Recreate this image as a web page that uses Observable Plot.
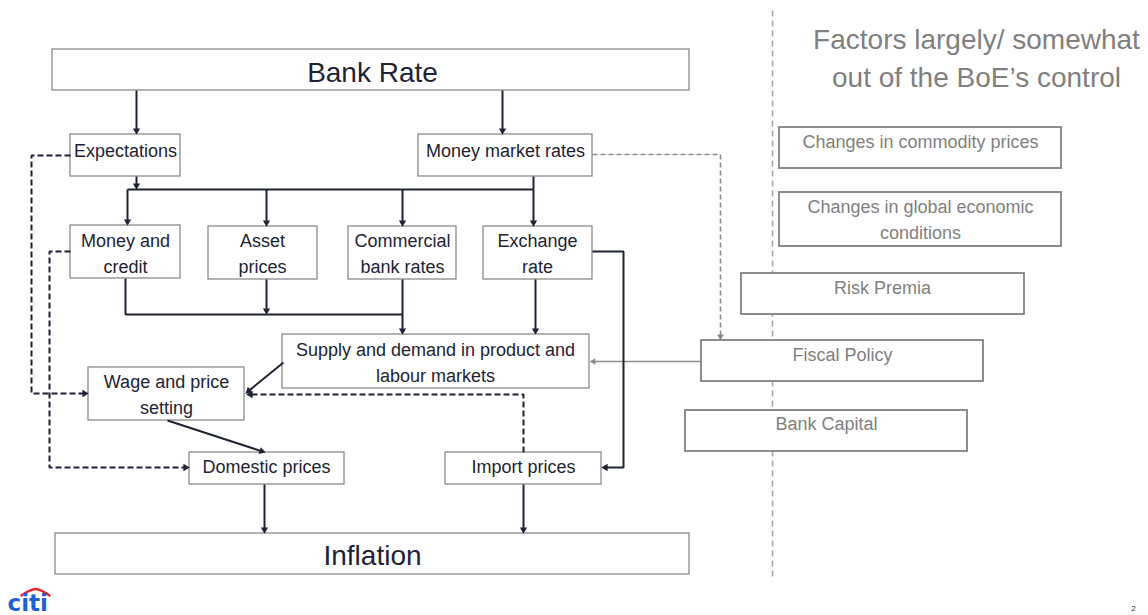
<!DOCTYPE html>
<html>
<head>
<meta charset="utf-8">
<script src="https://cdn.jsdelivr.net/npm/d3@7"></script>
<script src="https://cdn.jsdelivr.net/npm/@observablehq/plot@0.6"></script>
<style>
  html, body { margin: 0; padding: 0; background: #ffffff; }
  #chart svg { display: block; font-family: "Liberation Sans", Arial, sans-serif; }
</style>
</head>
<body>
<div id="chart"></div>
<script>
// ---- Diagram data (node boxes, in the diagram's own coordinate space) ----
const nodeNames  = ["Bank Rate", "Expectations", "Money market rates", "Money and\ncredit", "Asset\nprices",
                    "Commercial\nbank rates", "Exchange\nrate", "Supply and demand in product and\nlabour markets",
                    "Wage and price\nsetting", "Domestic prices", "Import prices", "Inflation",
                    "Changes in commodity prices", "Changes in global economic\nconditions", "Risk Premia",
                    "Fiscal Policy", "Bank Capital"];
const nodeGroup  = ["headline", "core", "core", "core", "core", "core", "core", "core", "core", "core", "core", "headline",
                    "external", "external", "external", "external", "external"];
const nodeX1     = [52, 70, 418, 70, 208, 348, 483, 282, 88, 189, 445, 55, 779, 779, 741, 701, 685];
const nodeX2     = [689, 180, 592, 180, 317, 456, 592, 589, 244, 344, 601, 689, 1061, 1061, 1024, 983, 967];
const nodeY1     = [49, 134, 134, 225, 226, 226, 226, 334, 367, 452, 452, 533, 127, 192, 273, 340, 410];
const nodeY2     = [90, 176, 176, 278, 279, 279, 279, 388, 420, 484, 484, 574, 168, 246, 314, 381, 451];
const nodeLabelX = [372, 125, 505, 125, 262, 402, 537, 435, 166, 266, 523, 372, 920, 920, 882, 842, 826];
const nodeLabelY = [73, 148, 148, 251, 251, 251, 251, 360, 392, 464, 464, 556, 139, 217, 285, 352, 421];

// ---- Connectors (polylines; "Arrows" end with a head) ----
const solidLines = [
  [[127, 189], [533, 189]],
  [[533, 176], [533, 189]],
  [[125, 278], [125, 314], [402, 314]]
];
const solidArrows = [
  [[136, 90], [136, 134]],
  [[502, 90], [502, 134]],
  [[136, 176], [136, 189]],
  [[127, 189], [127, 225]],
  [[266, 189], [266, 226]],
  [[402, 189], [402, 226]],
  [[533, 189], [533, 226]],
  [[266, 279], [266, 314]],
  [[402, 279], [402, 334]],
  [[535, 279], [535, 334]],
  [[592, 251], [623, 251], [623, 467], [601, 467]],
  [[283, 362], [245, 393]],
  [[167, 420], [265, 452]],
  [[264, 484], [264, 533]],
  [[523, 484], [523, 533]]
];
const dashedArrows = [
  [[70, 155], [31, 155], [31, 393], [88, 393]],
  [[70, 251], [49, 251], [49, 467], [189, 467]],
  [[523, 452], [523, 394], [246, 394]]
];
const greyDashedArrows = [
  [[592, 154], [720, 154], [720, 340]]
];
const greyArrows = [
  [[701, 361], [589, 361]]
];
const separatorLine = [[772, 10], [772, 580]];

const sideTitle = "Factors largely/ somewhat\nout of the BoE’s control";
const logoText = "citi";
const logoArc = [[21, 595], [35, 588.5], [49, 595]];
const pageNumber = "2";

// ---- Build tables ----
const nodes = nodeNames.map((name, i) => ({
  name, group: nodeGroup[i], x1: nodeX1[i], x2: nodeX2[i], y1: nodeY1[i], y2: nodeY2[i],
  lx: nodeLabelX[i], ly: nodeLabelY[i]
}));

const TIP = 4.0;     // distance from triangle center to tip
const SHORTEN = 3;   // line end pulled back under the head

function flatten(paths, withHead) {
  const out = [];
  paths.forEach((pts, id) => {
    pts.forEach((p, j) => {
      let [x, y] = p;
      if (withHead && j === pts.length - 1) {
        const [x0, y0] = pts[j - 1];
        const L = Math.hypot(x - x0, y - y0);
        x -= (x - x0) / L * SHORTEN;
        y -= (y - y0) / L * SHORTEN;
      }
      out.push({id, x, y});
    });
  });
  return out;
}
function heads(paths) {
  return paths.map(pts => {
    const [x0, y0] = pts[pts.length - 2], [x1, y1] = pts[pts.length - 1];
    const L = Math.hypot(x1 - x0, y1 - y0);
    const ux = (x1 - x0) / L, uy = (y1 - y0) / L;
    return {x: x1 - ux * TIP, y: y1 - uy * TIP, rotate: Math.atan2(ux, -uy) * 180 / Math.PI};
  });
}

const DARK = "#1d2334";
const GREY = "#8c8c8c";
const lineOpts = {x: "x", y: "y", z: "id", strokeLinecap: "butt", strokeLinejoin: "miter", curve: "linear"};

const core = nodes.filter(d => d.group !== "external");
const ext = nodes.filter(d => d.group === "external");

const chart = Plot.plot({
  width: 1148,
  height: 615,
  margin: 0,
  x: {domain: [0, 1148], range: [0, 1148], axis: null},
  y: {domain: [0, 615], range: [0, 615], axis: null},
  style: {fontFamily: "'Liberation Sans', Arial, sans-serif", background: "#ffffff"},
  marks: [
    // separator
    Plot.line(separatorLine, {x: d => d[0], y: d => d[1], stroke: "#a6a6a6", strokeWidth: 1.6, strokeDasharray: "6,4", strokeLinecap: "butt"}),
    // grey connectors
    Plot.line(flatten(greyDashedArrows, true), {...lineOpts, stroke: GREY, strokeWidth: 1.6, strokeDasharray: "5,3"}),
    Plot.line(flatten(greyArrows, true), {...lineOpts, stroke: GREY, strokeWidth: 1.6}),
    Plot.dot(heads(greyDashedArrows.concat(greyArrows)), {x: "x", y: "y", rotate: "rotate", symbol: "triangle", r: 2.5, fill: GREY, stroke: "none"}),
    // boxes
    Plot.rect(core, {x1: "x1", x2: "x2", y1: "y1", y2: "y2", fill: "#ffffff", stroke: "#8a8a8a", strokeWidth: 1.3}),
    Plot.rect(ext, {x1: "x1", x2: "x2", y1: "y1", y2: "y2", fill: "#ffffff", stroke: "#7a7a7a", strokeWidth: 1.7}),
    // dark connectors
    Plot.line(flatten(solidLines, false), {...lineOpts, stroke: DARK, strokeWidth: 2}),
    Plot.line(flatten(solidArrows, true), {...lineOpts, stroke: DARK, strokeWidth: 2}),
    Plot.line(flatten(dashedArrows, true), {...lineOpts, stroke: DARK, strokeWidth: 2, strokeDasharray: "6,3"}),
    Plot.dot(heads(solidArrows.concat(dashedArrows)), {x: "x", y: "y", rotate: "rotate", symbol: "triangle", r: 2.7, fill: DARK, stroke: "none"}),
    // labels
    Plot.text(nodes.filter(d => d.group === "headline"), {x: "lx", y: "ly", text: "name", fontSize: 28, fill: DARK, lineAnchor: "middle"}),
    Plot.text(nodes.filter(d => d.group === "core"), {x: "lx", y: "ly", text: "name", fontSize: 18, fill: DARK, lineAnchor: "middle", lineHeight: 1.45}),
    Plot.text(ext, {x: "lx", y: "ly", text: "name", fontSize: 18, fill: "#7f7f7f", lineAnchor: "middle", lineHeight: 1.45}),
    Plot.text([sideTitle], {x: () => 976, y: () => 55, text: d => d, fontSize: 28, fill: "#7f7f7f", lineAnchor: "middle", lineHeight: 1.38}),
    // logo and page number
    Plot.line(logoArc, {x: d => d[0], y: d => d[1], curve: "natural", stroke: "#e3262b", strokeWidth: 2.4}),
    Plot.text([logoText], {x: () => 7, y: () => 610, text: d => d, fontSize: 23, fontWeight: "bold", fill: "#1f5fd1", textAnchor: "start", lineAnchor: "bottom", fontFamily: "'DejaVu Sans', sans-serif"}),
    Plot.text([pageNumber], {x: () => 1133, y: () => 608, text: d => d, fontSize: 8, fill: "#333333"})
  ]
});
document.getElementById("chart").appendChild(chart);
</script>
</body>
</html>
